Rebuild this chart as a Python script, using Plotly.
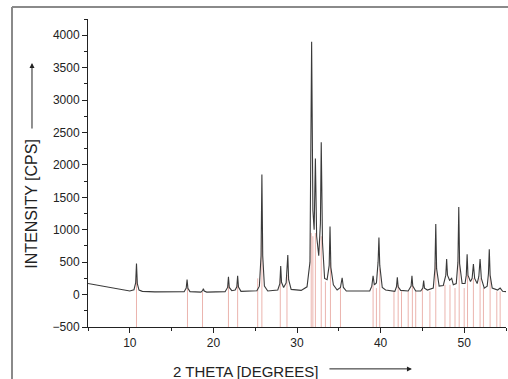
import plotly.graph_objects as go

two_theta = [5.0, 6.0, 7.0, 8.0, 9.0, 10.0, 10.5, 10.7, 10.8, 10.9, 11.1, 11.5, 13.0, 15.0,
             16.5, 16.75, 16.85, 16.95, 17.2, 18.5, 18.7, 18.8, 18.9, 19.2,
             21.4, 21.7, 21.8, 21.9, 22.2, 22.6, 22.8, 22.9, 23.0, 23.3,
             25.2, 25.5, 25.7, 25.8, 25.9, 26.1, 26.5, 27.7, 27.95, 28.05, 28.15, 28.4,
             28.7, 28.9, 29.0, 29.3, 30.5, 31.2, 31.55, 31.75, 31.9, 32.05, 32.2, 32.35,
             32.6, 32.8, 32.9, 33.05, 33.3, 33.6, 33.85, 33.95, 34.05, 34.35, 34.8,
             35.2, 35.4, 35.55, 35.9, 38.7, 38.95, 39.1, 39.25, 39.5, 39.7, 39.8, 39.9,
             40.2, 40.6, 41.7, 41.9, 42.0, 42.1, 42.4, 43.3, 43.65, 43.75, 43.85, 44.2,
             44.8, 45.05, 45.15, 45.25, 45.6, 46.3, 46.5, 46.6, 46.7, 47.0, 47.5, 47.8,
             47.9, 48.0, 48.25, 48.5, 48.7, 49.05, 49.25, 49.35, 49.45, 49.75, 50.1,
             50.25, 50.35, 50.45, 50.75, 50.95, 51.1, 51.25, 51.55, 51.75, 51.9, 52.05,
             52.4, 52.75, 52.9, 53.0, 53.1, 53.35, 54.0, 54.3, 54.6, 55.0]
intensity = [170, 145, 120, 95, 70, 55, 75, 180, 480, 170, 70, 50, 42, 38,
             45, 100, 230, 95, 45, 38, 60, 90, 55, 38,
             45, 110, 275, 110, 60, 70, 120, 290, 115, 50,
             60, 130, 600, 1850, 600, 130, 55, 70, 170, 440, 190, 110,
             180, 610, 230, 80, 65, 120, 500, 3900, 1300, 1000, 2100, 900,
             600, 1100, 2350, 800, 250, 230, 450, 1050, 420, 150, 70,
             110, 260, 110, 55, 55, 130, 290, 150, 180, 500, 880, 450,
             110, 70, 50, 120, 265, 120, 65, 55, 130, 290, 130, 55,
             55, 100, 215, 100, 70, 100, 400, 1090, 400, 130, 140, 300,
             550, 300, 220, 250, 150, 170, 500, 1350, 480, 170, 170,
             300, 620, 300, 200, 250, 470, 250, 170, 280, 550, 250,
             100, 130, 320, 700, 300, 100, 70, 100, 50, 45]

# Reference pattern sticks (positions and tops)
ref_pos = [10.8, 16.9, 18.7, 21.8, 22.9, 25.3, 25.8, 28.0, 28.8, 31.7, 31.9, 32.2, 32.9, 33.4,
           34.0, 35.2, 39.1, 39.5, 39.9, 41.6, 42.1, 42.5, 43.3, 43.8, 44.2, 45.0, 45.9, 46.6,
           47.7, 48.3, 48.9, 49.4, 50.0, 50.4, 51.1, 51.9, 52.3, 53.1, 53.9, 54.3]
ref_top = [250, 100, 40, 150, 150, 250, 900, 250, 300, 950, 900, 950, 900, 200,
           500, 100, 150, 100, 400, 50, 150, 50, 50, 150, 50, 100, 50, 500,
           150, 150, 100, 600, 100, 300, 250, 250, 100, 300, 50, 50]
ref_base = -500

x_ticks = [10, 20, 30, 40, 50]
y_ticks = [-500, 0, 500, 1000, 1500, 2000, 2500, 3000, 3500, 4000]

sx, sy = [], []
for p, t in zip(ref_pos, ref_top):
    sx += [p, p, None]
    sy += [ref_base, t, None]

fig = go.Figure()
fig.add_trace(go.Scatter(x=sx, y=sy, mode="lines",
                         line=dict(color="#ebb4ae", width=1), hoverinfo="skip"))
fig.add_trace(go.Scatter(x=two_theta, y=intensity, mode="lines",
                         line=dict(color="#3a3a3a", width=1.1)))

font = "Arial, Liberation Sans, sans-serif"
fig.update_layout(
    width=508, height=379,
    margin=dict(l=88, r=2, t=19, b=52),
    paper_bgcolor="white", plot_bgcolor="white",
    showlegend=False,
    font=dict(family=font, size=12, color="#222"),
    xaxis=dict(range=[5, 55], tickvals=x_ticks, ticks="outside", ticklen=5,
               tickcolor="#222", showline=True, linecolor="#222", linewidth=1,
               showgrid=False, zeroline=False,
               minor=dict(dtick=5, tick0=0, ticks="outside", ticklen=3, tickcolor="#222")),
    yaxis=dict(range=[-500, 4250], tickvals=y_ticks, ticks="outside", ticklen=5,
               tickcolor="#222", showline=True, linecolor="#222", linewidth=1,
               showgrid=False, zeroline=False,
               minor=dict(dtick=250, tick0=0, ticks="outside", ticklen=3, tickcolor="#222")),
)

fig.add_annotation(text="2 THETA [DEGREES]", xref="paper", yref="paper",
                   x=0.377, y=-0.146, showarrow=False, xanchor="center", yanchor="middle",
                   font=dict(family=font, size=15, color="#222"))
fig.add_annotation(text="", xref="paper", yref="paper", x=0.775, y=-0.136,
                   ax=-84, ay=0, showarrow=True, arrowhead=2, arrowsize=1,
                   arrowwidth=1, arrowcolor="#222")
fig.add_annotation(text="INTENSITY [CPS]", xref="paper", yref="paper",
                   x=-0.136, y=0.401, showarrow=False, textangle=-90,
                   xanchor="center", yanchor="middle",
                   font=dict(family=font, size=16, color="#222"))
fig.add_annotation(text="", xref="paper", yref="paper", x=-0.134, y=0.857,
                   ax=0, ay=67, showarrow=True, arrowhead=2, arrowsize=1,
                   arrowwidth=1, arrowcolor="#222")

# grey frame of the original figure (left and top edges)
fig.add_shape(type="line", xref="paper", yref="paper", x0=-0.1818, x1=-0.1818,
              y0=-0.2, y1=1.039, line=dict(color="#8a8a8a", width=2))
fig.add_shape(type="line", xref="paper", yref="paper", x0=-0.1818, x1=1.01,
              y0=1.039, y1=1.039, line=dict(color="#8a8a8a", width=2))

fig.write_html("out.html", config={"displayModeBar": False},
               post_script="document.body.style.margin='0';document.body.style.overflow='hidden';")
